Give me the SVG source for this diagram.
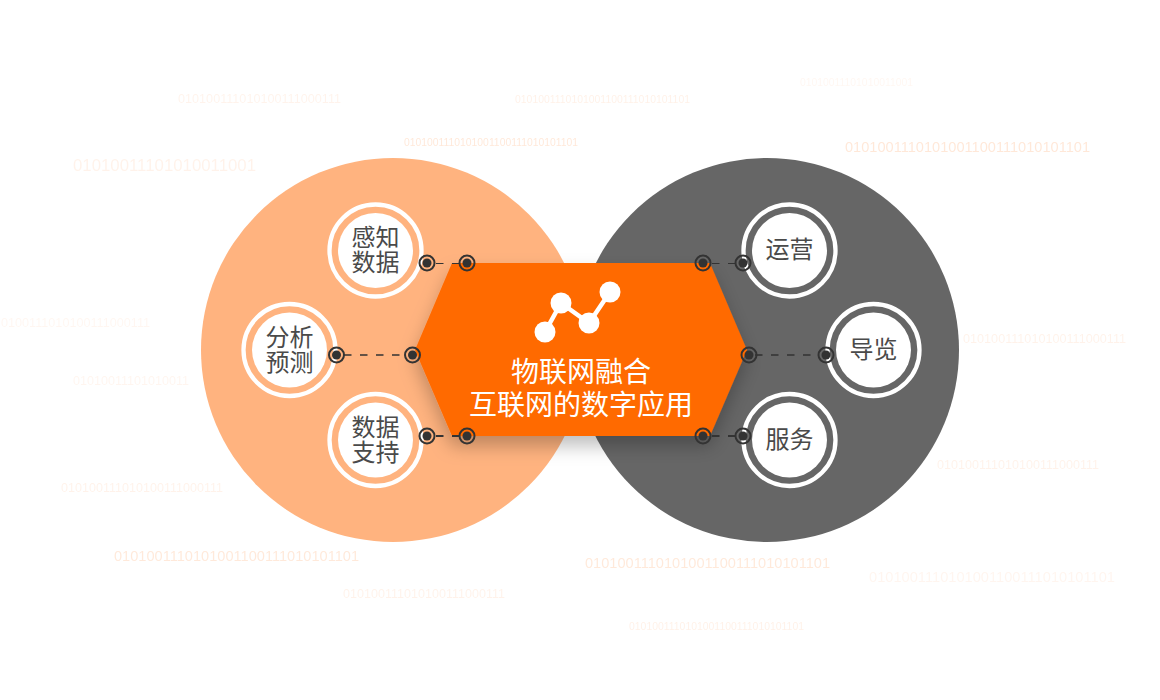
<svg xmlns="http://www.w3.org/2000/svg" width="1160" height="700" viewBox="0 0 1160 700">
<style>
.b{font-family:"Liberation Sans",Arial,sans-serif;fill:#ff6a00}
.l{font-family:"Noto Sans CJK SC","Noto Sans",sans-serif;font-size:24px;fill:#4a4a4a;text-anchor:middle}
.t{font-family:"Noto Sans CJK SC","Noto Sans",sans-serif;font-size:28px;fill:#fff;text-anchor:middle}
.ring{fill:none;stroke:#fff;stroke-width:4.3}
.disk{fill:#fff}
.dash{stroke:#333;fill:none;stroke-dasharray:7.5 8.5}
.po{fill:none;stroke:#333;stroke-width:2}
.pi{fill:#333}
</style>
<defs>
<filter id="sh" x="-20%" y="-30%" width="140%" height="170%"><feDropShadow dx="0" dy="10" stdDeviation="9" flood-color="#000" flood-opacity="0.25"/></filter>
<g id="pin"><circle r="7.5" class="po"/><circle r="4.5" class="pi"/></g>
</defs>
<g id="binary-background">
<text class="b" x="178" y="103" font-size="12" textLength="163" lengthAdjust="spacingAndGlyphs" opacity=".07">010100111010100111000111</text>
<text class="b" x="515" y="103" font-size="10" textLength="175" lengthAdjust="spacingAndGlyphs" opacity=".09">0101001110101001100111010101101</text>
<text class="b" x="800" y="86" font-size="10" textLength="113" lengthAdjust="spacingAndGlyphs" opacity=".05">01010011101010011001</text>
<text class="b" x="404" y="146" font-size="10" textLength="174" lengthAdjust="spacingAndGlyphs" opacity=".15">0101001110101001100111010101101</text>
<text class="b" x="73" y="171" font-size="16" textLength="183" lengthAdjust="spacingAndGlyphs" opacity=".08">01010011101010011001</text>
<text class="b" x="845" y="152" font-size="14" textLength="245" lengthAdjust="spacingAndGlyphs" opacity=".15">0101001110101001100111010101101</text>
<text class="b" x="1" y="327" font-size="12" textLength="149" lengthAdjust="spacingAndGlyphs" opacity=".05">0100111010100111000111</text>
<text class="b" x="73" y="385" font-size="12" textLength="116" lengthAdjust="spacingAndGlyphs" opacity=".06">01010011101010011</text>
<text class="b" x="61" y="492" font-size="12" textLength="162" lengthAdjust="spacingAndGlyphs" opacity=".08">010100111010100111000111</text>
<text class="b" x="114" y="561" font-size="14" textLength="245" lengthAdjust="spacingAndGlyphs" opacity=".14">0101001110101001100111010101101</text>
<text class="b" x="343" y="598" font-size="12" textLength="162" lengthAdjust="spacingAndGlyphs" opacity=".08">010100111010100111000111</text>
<text class="b" x="585" y="568" font-size="14" textLength="245" lengthAdjust="spacingAndGlyphs" opacity=".14">0101001110101001100111010101101</text>
<text class="b" x="869" y="582" font-size="14" textLength="246" lengthAdjust="spacingAndGlyphs" opacity=".06">0101001110101001100111010101101</text>
<text class="b" x="629" y="630" font-size="10" textLength="175" lengthAdjust="spacingAndGlyphs" opacity=".09">0101001110101001100111010101101</text>
<text class="b" x="963" y="343" font-size="12" textLength="163" lengthAdjust="spacingAndGlyphs" opacity=".08">010100111010100111000111</text>
<text class="b" x="937" y="469" font-size="12" textLength="162" lengthAdjust="spacingAndGlyphs" opacity=".08">010100111010100111000111</text>
</g>
<circle id="left-lobe" cx="393" cy="350" r="192" fill="#ffb37f"/>
<circle id="right-lobe" cx="767" cy="350" r="192" fill="#666"/>
<g id="hub">
<polygon points="452,263 710,263 747,350 710,436 452,436 415,350" fill="#ff6a00" filter="url(#sh)"/>
<g id="hub-icon" fill="#fff" stroke="#fff">
<polyline points="545,332 561,303 589,323 610,292" fill="none" stroke-width="4.5"/>
<g stroke="none"><circle cx="545" cy="332" r="10.5"/><circle cx="561" cy="303" r="10.5"/><circle cx="589" cy="323" r="10.5"/><circle cx="610" cy="292" r="10.5"/></g>
</g>
<text class="t" x="581" y="382">物联网融合</text>
<text class="t" x="581" y="415">互联网的数字应用</text>
</g>
<g id="connectors">
<path class="dash" stroke-width="1" d="M436 263.5H459"/>
<path class="dash" stroke-width="1.6" d="M344 355H405"/>
<path class="dash" stroke-width="1.8" d="M436 436H459"/>
<path class="dash" stroke-width="1" d="M712 263.5H735"/>
<path class="dash" stroke-width="1.6" d="M755 355H819"/>
<path class="dash" stroke-width="1.8" d="M712 436H735"/>
</g>
<g id="node-perception"><circle cx="375.5" cy="250.5" r="46" class="ring"/><circle cx="375.5" cy="250.5" r="37.5" class="disk"/><text class="l" y="246"><tspan x="375.5">感知</tspan><tspan x="375.5" dy="25">数据</tspan></text></g>
<g id="node-forecast"><circle cx="289.5" cy="350" r="46" class="ring"/><circle cx="289.5" cy="350" r="37.5" class="disk"/><text class="l" y="346"><tspan x="289.5">分析</tspan><tspan x="289.5" dy="25">预测</tspan></text></g>
<g id="node-support"><circle cx="375.5" cy="440" r="46" class="ring"/><circle cx="375.5" cy="440" r="37.5" class="disk"/><text class="l" y="436"><tspan x="375.5">数据</tspan><tspan x="375.5" dy="25">支持</tspan></text></g>
<g id="node-operation"><circle cx="789.5" cy="250.5" r="46" class="ring"/><circle cx="789.5" cy="250.5" r="37.5" class="disk"/><text class="l" x="789.5" y="258">运营</text></g>
<g id="node-guide"><circle cx="873.5" cy="350" r="46" class="ring"/><circle cx="873.5" cy="350" r="37.5" class="disk"/><text class="l" x="873.5" y="358">导览</text></g>
<g id="node-service"><circle cx="789.5" cy="440" r="46" class="ring"/><circle cx="789.5" cy="440" r="37.5" class="disk"/><text class="l" x="789.5" y="448">服务</text></g>
<g id="pins">
<use href="#pin" x="427" y="263"/><use href="#pin" x="467" y="263"/>
<use href="#pin" x="336.5" y="355"/><use href="#pin" x="412.5" y="355"/>
<use href="#pin" x="427" y="436"/><use href="#pin" x="467" y="436"/>
<use href="#pin" x="703" y="263"/><use href="#pin" x="743" y="263"/>
<use href="#pin" x="749" y="355"/><use href="#pin" x="826" y="355"/>
<use href="#pin" x="703" y="436"/><use href="#pin" x="743" y="436"/>
</g>
</svg>
